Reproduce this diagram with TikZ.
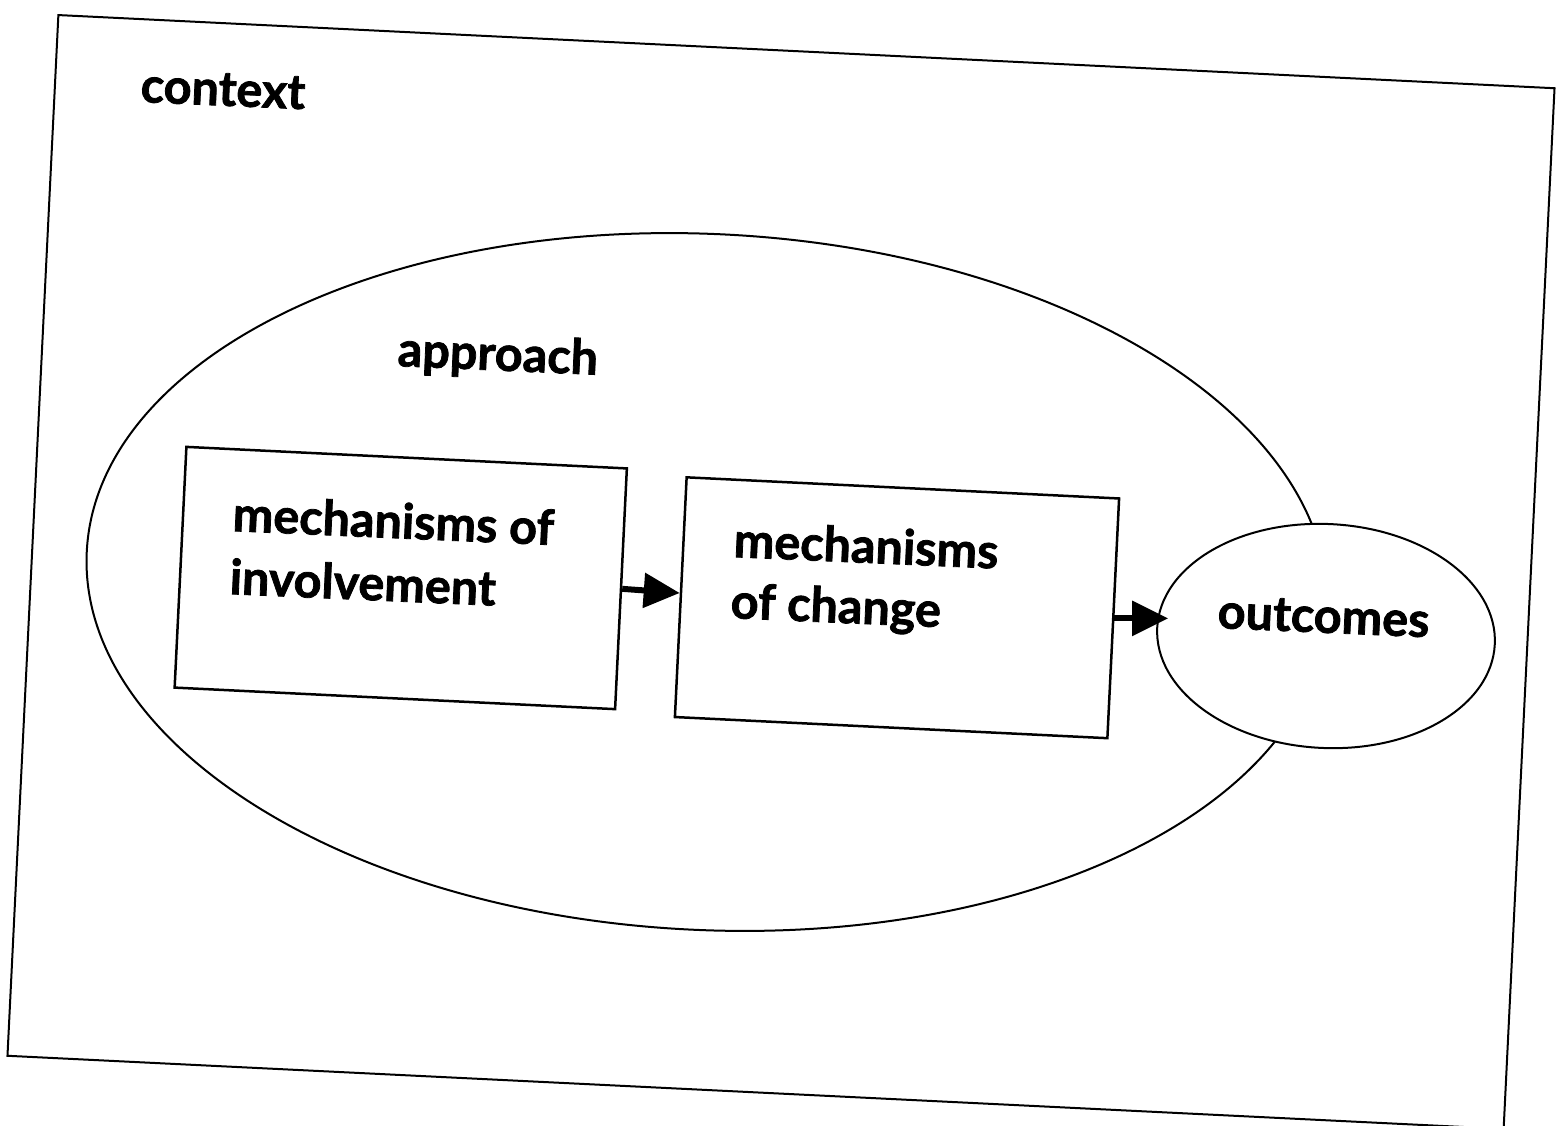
\documentclass[tikz,border=0pt]{standalone}
\usepackage{fontspec}
\setmainfont{Lato}[BoldFeatures={FakeBold=1.6}]
\usetikzlibrary{shapes.geometric,arrows.meta,calc}
\begin{document}
\begin{tikzpicture}[x=1pt,y=-1pt,
  lbl/.style={font=\fontsize{48.5}{58}\selectfont\bfseries, inner sep=0pt, anchor=base west, rotate=-2.5},
  frame/.style={draw, line width=2pt, rotate=-2.8, inner sep=0pt},
  link/.style={line width=6pt, -{Triangle[length=36pt,width=34pt]}}]
\useasboundingbox (0,0) rectangle (1556,1125);
\clip (0,0) rectangle (1556,1125);
\fill[white] (0,0) rectangle (1556,1125);
% context frame
\node[frame, minimum width=1498pt, minimum height=1042pt] (ctx) at (781,572) {};
\node[lbl] (tctx) at (140,102) {context};
% approach ellipse
\node[frame, ellipse, minimum width=1242pt, minimum height=696pt] (app) at (707,582) {};
\node[lbl] (tapp) at (397,366) {approach};
% boxes
\node[frame, line width=2.5pt, minimum width=441pt, minimum height=241pt] (b1) at (400.75,578) {};
\node[frame, line width=2.5pt, minimum width=433pt, minimum height=240pt] (b2) at (897,607.75) {};
\node[lbl] (t1a) at (232,531) {mechanisms of};
\node[lbl] (t1b) at (229,594) {involvement};
\node[lbl] (t2a) at (733,557) {mechanisms};
\node[lbl] (t2b) at (730,618) {of change};
% outcomes
\node[frame, ellipse, fill=white, minimum width=338pt, minimum height=224pt] (out) at (1326,636) {};
\node[lbl] (tout) at (1217,628) {outcomes};
% arrows
\draw[link] (b1.east) -- ($(b2.north west)!0.483!(b2.south west)$);
\draw[link] (b2.east) -- ([xshift=12pt]b2.east -| out.west);
\end{tikzpicture}
\end{document}
